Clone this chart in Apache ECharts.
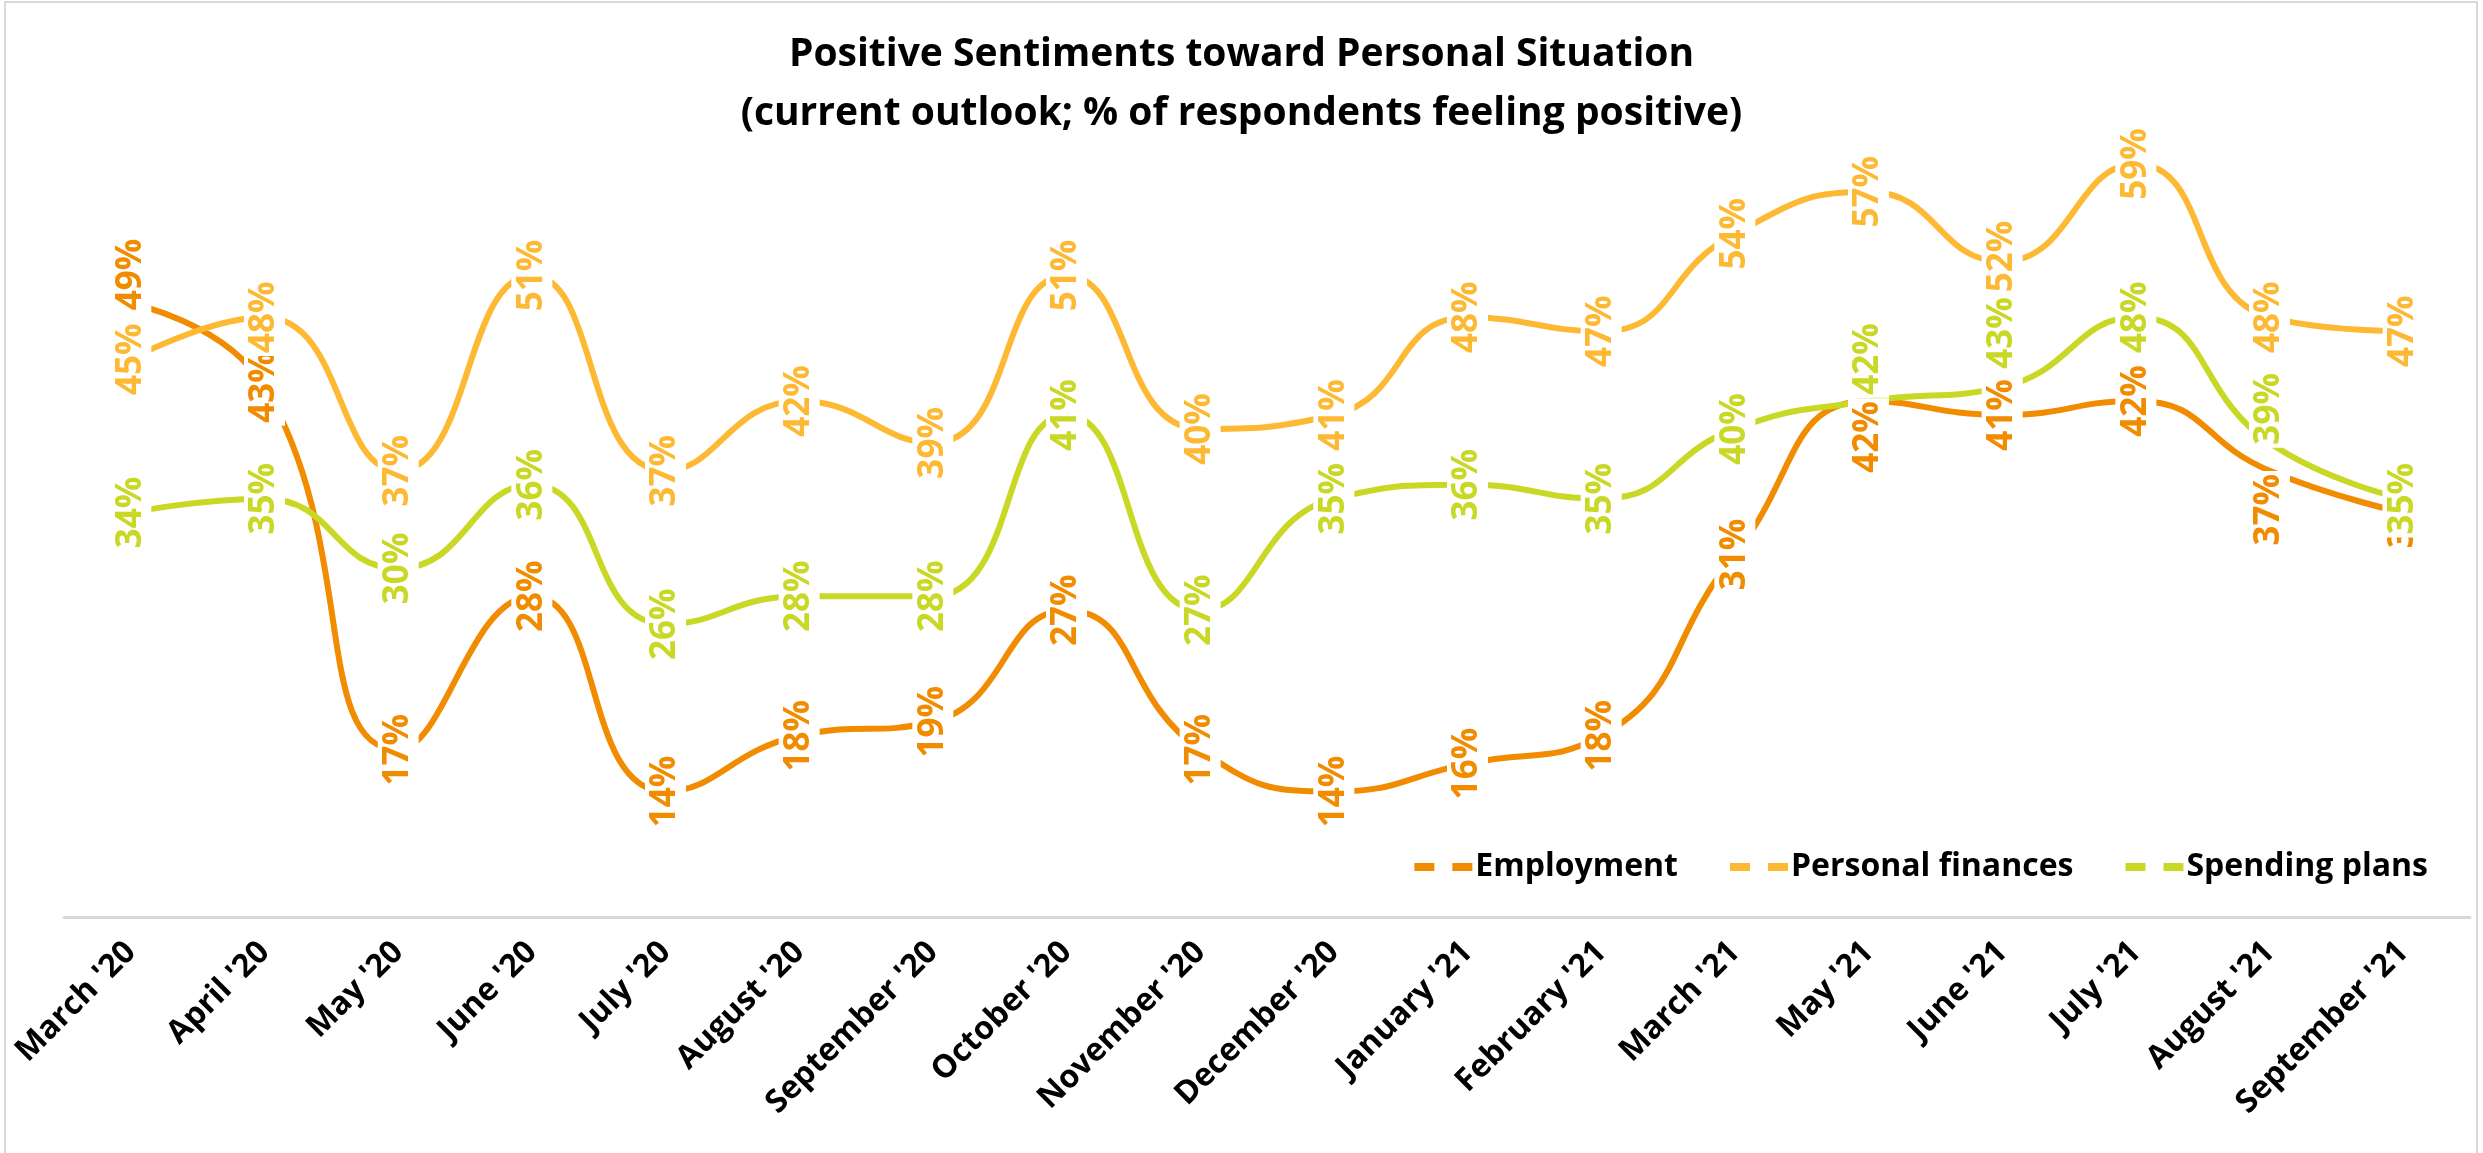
<!DOCTYPE html>
<html>
<head>
<meta charset="utf-8">
<script src="https://cdn.jsdelivr.net/npm/echarts@6/dist/echarts.min.js"></script>
<style>
html,body{margin:0;padding:0;background:#fff;}
#chart{width:2483px;height:1153px;}
</style>
</head>
<body>
<div id="chart"></div>
<script>
const categories = ["March '20","April '20","May '20","June '20","July '20","August '20","September '20","October '20","November '20","December '20","January '21","February '21","March '21","May '21","June '21","July '21","August '21","September '21"];
const employment = [49,43,17,28,14,18,19,27,17,14,16,18,31,42,41,42,37,34];
const personalFinances = [45,48,37,51,37,42,39,51,40,41,48,47,54,57,52,59,48,47];
const spendingPlans = [34,35,30,36,26,28,28,41,27,35,36,35,40,42,43,48,39,35];

const seriesNames = ['Employment','Personal finances','Spending plans'];
const seriesColors = ['#F18B00','#FDB934','#C9D725'];
const seriesData = [employment, personalFinances, spendingPlans];
// label nudges (px, screen y, + = down) where labels were moved apart in the original
const labelNudges = [
  {0: -29, 13: 36, 16: 39},
  {14: -5},
  {13: -42, 14: -54, 16: -34}
];

const FONT = '"Open Sans", "Noto Sans", sans-serif';

const chart = echarts.init(document.getElementById('chart'));
const option = {
  backgroundColor: '#ffffff',
  animation: false,
  title: {
    text: 'Positive Sentiments toward Personal Situation\n(current outlook; % of respondents feeling positive)',
    left: 'center',
    top: 20,
    textStyle: {fontFamily: FONT, fontWeight: 'bold', fontSize: 39, color: '#000', lineHeight: 59}
  },
  legend: {
    right: 50,
    top: 846,
    itemWidth: 58,
    itemHeight: 8,
    itemGap: 52,
    icon: 'path://M0,0h20v8h-20z M38,0h20v8h-20z',
    textStyle: {fontFamily: FONT, fontWeight: 'bold', fontSize: 32, color: '#000', padding: [0,0,0,-2]},
    data: seriesNames
  },
  graphic: [{
    type: 'rect', shape: {x: 5, y: 2, width: 2472, height: 1160},
    style: {fill: 'none', stroke: '#d9d9d9', lineWidth: 2}, silent: true, z: -1
  }],
  grid: {left: 64, right: 13, top: 150, bottom: 236},
  xAxis: {
    type: 'category',
    data: categories,
    boundaryGap: true,
    axisLine: {lineStyle: {color: '#d9d9d9', width: 3}},
    axisTick: {show: false},
    axisLabel: {rotate: 45, margin: 30, interval: 0, fontFamily: FONT, fontWeight: 'bold', fontSize: 32, color: '#000'}
  },
  yAxis: {type: 'value', min: 5, max: 60, show: false, splitLine: {show: false}},
  series: seriesNames.map((name, i) => ({
    name: name,
    type: 'line',
    smooth: 0.5,
    data: seriesData[i].map((v, j) => {
      const d = {value: v};
      // label is rotated 90deg, so its local x axis points up on screen
      if (labelNudges[i][j] !== undefined) d.label = {offset: [-labelNudges[i][j], 0]};
      return d;
    }),
    symbol: 'circle',
    symbolSize: 2,
    color: seriesColors[i],
    lineStyle: {width: 6, color: seriesColors[i]},
    itemStyle: {color: seriesColors[i]},
    label: {
      show: true,
      position: 'inside',
      rotate: 90,
      formatter: '{c}%',
      fontFamily: FONT,
      fontWeight: 'bold',
      fontSize: 35,
      lineHeight: 35,
      color: seriesColors[i],
      backgroundColor: '#ffffff',
      padding: [3, 3]
    }
  }))
};
chart.setOption(option);
</script>
</body>
</html>
